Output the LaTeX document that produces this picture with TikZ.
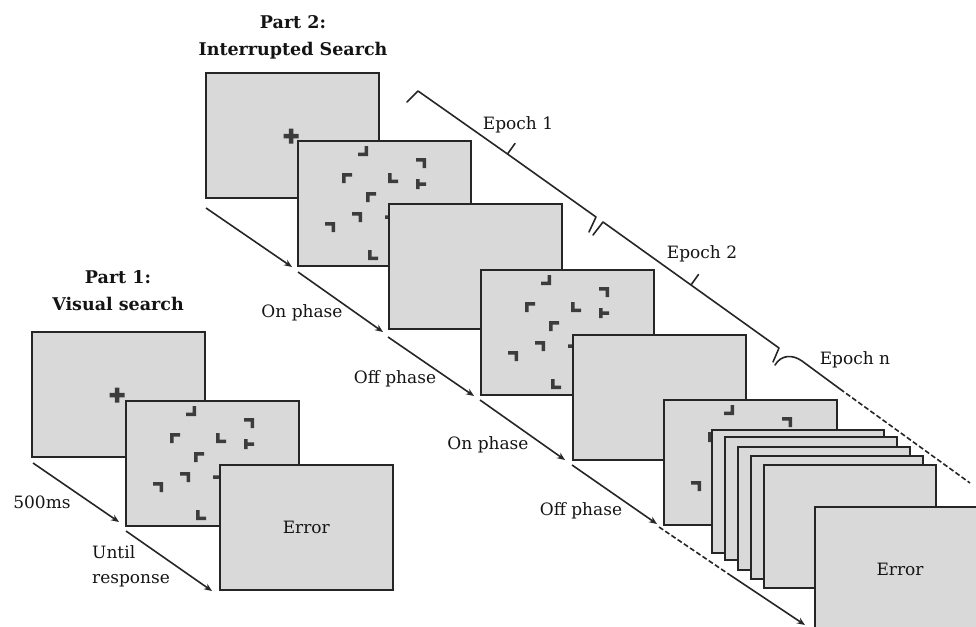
\documentclass[tikz,border=0pt]{standalone}
\usepackage{fontspec}
\setmainfont{DejaVu Serif}
\usetikzlibrary{arrows.meta}
\definecolor{scr}{HTML}{D9D9D9}
\definecolor{edgec}{HTML}{262626}
\definecolor{markc}{HTML}{3C3C3C}
\definecolor{txt}{HTML}{141414}
% glyph macros (pixel units, y down)
\newcommand\gBL[2]{\fill[markc] (#1-5,#2-5) rectangle (#1-1.5,#2+5) (#1-5,#2+1.5) rectangle (#1+5,#2+5);}
\newcommand\gBR[2]{\fill[markc] (#1+1.5,#2-5) rectangle (#1+5,#2+5) (#1-5,#2+1.5) rectangle (#1+5,#2+5);}
\newcommand\gTL[2]{\fill[markc] (#1-5,#2-5) rectangle (#1-1.5,#2+5) (#1-5,#2-5) rectangle (#1+5,#2-1.5);}
\newcommand\gTR[2]{\fill[markc] (#1+1.5,#2-5) rectangle (#1+5,#2+5) (#1-5,#2-5) rectangle (#1+5,#2-1.5);}
\newcommand\gTee[2]{\fill[markc] (#1-5,#2-5) rectangle (#1-1.5,#2+5) (#1-5,#2-1.75) rectangle (#1+5,#2+1.75);}
\newcommand\gTeeR[2]{\fill[markc] (#1+1.5,#2-5) rectangle (#1+5,#2+5) (#1-5,#2-1.75) rectangle (#1+5,#2+1.75);}
\tikzset{
  searchitems/.pic={
    \gBR{66}{11}\gTR{124}{23}\gTL{50}{38}\gBL{96}{38}\gTee{124}{44}
    \gTL{74}{57}\gTR{60}{77}\gTR{33}{87}\gTeeR{93}{77}\gBL{76}{115}
  },
  fixcross/.pic={
    \fill[markc] (86-7.5,64-2.25) rectangle (86+7.5,64+2.25) (86-2.25,64-7.5) rectangle (86+2.25,64+7.5);
  }
}
\begin{document}
\begin{tikzpicture}[x=1pt,y=-1pt,
  screen/.style={draw=edgec,fill=scr,line width=1.6pt,minimum width=173pt,minimum height=125pt,
    anchor=north west,inner sep=0pt,text=txt,font=\fontsize{17}{20}\selectfont},
  stackscr/.style={screen,minimum width=172pt,minimum height=123pt},
  lbl/.style={inner sep=0pt,text=txt,font=\fontsize{17}{20}\selectfont},
  ttl/.style={inner sep=0pt,text=txt,align=center,font=\bfseries\fontsize{17.5}{27}\selectfont},
  tline/.style={draw=edgec,line width=1.6pt,-{Stealth[length=8pt,width=6.5pt]}},
  bline/.style={draw=edgec,line width=1.6pt,line join=round,line cap=round},
  dsh/.style={dash pattern=on 5pt off 2.5pt}
]
\useasboundingbox (0,0) rectangle (976,626);
\clip (0,0) rectangle (976,626);

% ---------------- Part 1 ----------------
\node[ttl] (t1) at (118,291) {Part 1:\\Visual search};
\node[screen] (a1) at (31,331) {};
\pic at (31,331) {fixcross};
\node[screen] (a2) at (125,400) {};
\pic at (125,400) {searchitems};
\node[screen] (a3) at (219,464) {Error};

\coordinate (q0) at (33,463);
\coordinate (q1) at (119,522);
\coordinate (q2) at (126,531);
\coordinate (q3) at (212,591);
\draw[tline] (q0) -- (q1);
\draw[tline] (q2) -- (q3);
\node[lbl] (l500) at (42,502) {500ms};
\node[lbl,align=left,anchor=west,font=\fontsize{17}{25}\selectfont] (lur) at (92,566) {Until\\response};

% ---------------- Part 2 ----------------
\node[ttl] (t2) at (293,37) {Part 2:\\Interrupted Search};
\node[screen] (b1) at (205,72) {};
\pic at (205,72) {fixcross};
\node[screen] (b2) at (297,140) {};
\pic at (297,140) {searchitems};
\node[screen] (b3) at (388,203) {};
\node[screen] (b4) at (480,269) {};
\pic at (480,269) {searchitems};
\node[screen] (b5) at (572,334) {};
\node[screen] (b6) at (663,399) {};
\pic at (663,399) {searchitems};
\node[stackscr] (s1) at (711,429) {};
\node[stackscr] (s2) at (724,436) {};
\node[stackscr] (s3) at (737,446) {};
\node[stackscr] (s4) at (750,455) {};
\node[stackscr] (s5) at (763,464) {};
\node[screen] (err) at (814,506) {};
\node[lbl] (errt) at (900,569) {Error};

% time line
\coordinate (p0) at (206,208);
\coordinate (p1) at (292,267);
\coordinate (p2) at (298,272);
\coordinate (p3) at (383,332);
\coordinate (p4) at (388,337);
\coordinate (p5) at (474,396);
\coordinate (p6) at (480,400);
\coordinate (p7) at (565,460);
\coordinate (p8) at (572,465);
\coordinate (p9) at (657,524);
\coordinate (p10) at (659,527);
\coordinate (p11) at (730,575);
\coordinate (p12) at (805,625);
\draw[tline] (p0) -- (p1);
\draw[tline] (p2) -- (p3);
\draw[tline] (p4) -- (p5);
\draw[tline] (p6) -- (p7);
\draw[tline] (p8) -- (p9);
\draw[bline,dsh,line cap=butt] (p10) -- (p11);
\draw[tline] (p11) -- (p12);

\node[lbl] (on1) at (302,313) {On phase};
\node[lbl] (off1) at (395,379) {Off phase};
\node[lbl] (on2) at (488,445) {On phase};
\node[lbl] (off2) at (581,511) {Off phase};

% epoch braces
\coordinate (e1a) at (407,102);
\coordinate (e1b) at (418,91);
\coordinate (e1m) at (507.5,154);
\coordinate (e1t) at (515,143.5);
\coordinate (e1c) at (596,217);
\coordinate (e1d) at (589,232);
\draw[bline] (e1a) -- (e1b) -- (e1m) -- (e1t) (e1m) -- (e1c) -- (e1d);
\coordinate (e2a) at (593,235);
\coordinate (e2b) at (603,222);
\coordinate (e2m) at (691,285);
\coordinate (e2t) at (698.5,274.5);
\coordinate (e2c) at (779,348);
\coordinate (e2d) at (773,362);
\draw[bline] (e2a) -- (e2b) -- (e2m) -- (e2t) (e2m) -- (e2c) -- (e2d);
\coordinate (ena) at (775,365);
\coordinate (enb) at (802,361);
\coordinate (enc) at (840,389);
\coordinate (end) at (970,483);
\draw[bline] (ena) .. controls (781,355) and (792,354) .. (enb) -- (enc);
\draw[bline,dsh,line cap=butt] (enc) -- (end);

\node[lbl] (ep1) at (518,125) {Epoch 1};
\node[lbl] (ep2) at (702,254) {Epoch 2};
\node[lbl] (epn) at (855,360) {Epoch n};
\end{tikzpicture}
\end{document}
